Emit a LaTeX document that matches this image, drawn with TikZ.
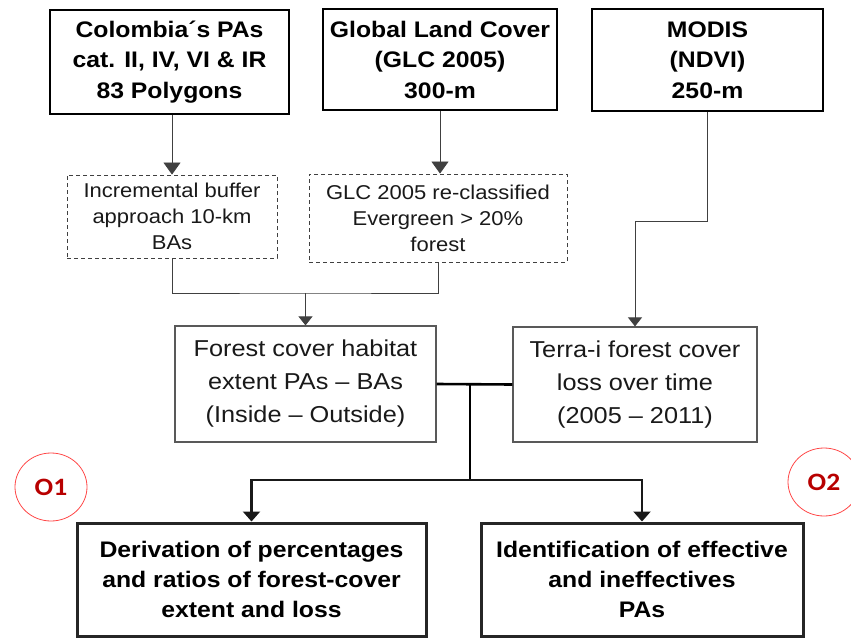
\documentclass[tikz,border=0pt]{standalone}
\usepackage{fontspec}
\setmainfont{Liberation Sans}[FakeStretch=1.1]
\newfontfamily\objfont{Carlito}[FakeStretch=1.1]
\usetikzlibrary{arrows.meta, positioning, shapes.geometric}
\definecolor{objred}{HTML}{B80000}
\definecolor{ringred}{HTML}{FF4848}
\tikzset{
  inbox/.style={draw=black, line width=2pt, align=center, inner sep=0pt,
    font=\bfseries\fontsize{22.5}{30.5}\selectfont},
  prepbox/.style={draw=black!75, line width=0.9pt, dash pattern=on 4pt off 3pt,
    align=center, inner sep=0pt, text=black!90, font=\fontsize{20}{26}\selectfont},
  midbox/.style={draw=black!65, line width=1.2pt, align=center, inner sep=0pt,
    text=black!90, font=\fontsize{23}{33}\selectfont},
  outbox/.style={draw=black!85, line width=3pt, align=center, inner sep=0pt,
    font=\bfseries\fontsize{22.5}{30}\selectfont},
  objring/.style={ellipse, draw=ringred, line width=0.8pt, minimum width=72pt,
    minimum height=68pt, text=objred, font=\objfont\bfseries\fontsize{25}{28}\selectfont},
  thinline/.style={draw=black!75, line width=0.8pt},
  toparr/.style={thinline, -{Triangle[width=17pt,length=12pt]}},
  thinarr/.style={thinline, -{Triangle[width=14pt,length=9pt]}},
  boldline/.style={draw=black, line width=2.6pt},
  boldarr/.style={draw=black!90, line width=2.2pt, -{Triangle[width=17pt,length=10pt]}},
}

\begin{document}
\begin{tikzpicture}[x=1pt, y=-1pt]
  \useasboundingbox (0,0) rectangle (851,637);
  % input data sets
  \node[inbox, minimum width=239pt, minimum height=104pt] (pas) at (169.5,62)
    {Colombia\char"00B4s PAs\\cat. II, IV, VI \& IR\\83 Polygons};
  \node[inbox, minimum width=234pt, minimum height=101pt] (glc) at (440,59.5)
    {Global Land Cover\\(GLC 2005)\\300-m};
  \node[inbox, minimum width=231pt, minimum height=102pt] (modis) at (707.5,60)
    {MODIS\\(NDVI)\\250-m};
  % pre-processing steps
  \node[prepbox, minimum width=210pt, minimum height=83pt] (buffer) at (172,216.5)
    {Incremental buffer\\approach 10-km\\BAs};
  \node[prepbox, minimum width=258pt, minimum height=88pt] (reclass) at (438,218)
    {GLC 2005 re-classified\\Evergreen > 20\%\\forest};
  % intermediate products
  \node[midbox, minimum width=261pt, minimum height=116pt] (habitat) at (305.5,384)
    {Forest cover habitat\\extent PAs -- BAs\\(Inside -- Outside)};
  \node[midbox, minimum width=244pt, minimum height=115pt] (terra) at (635,384.5)
    {Terra-i forest cover\\loss over time\\(2005 -- 2011)};
  % outputs
  \node[outbox, minimum width=349pt, minimum height=113pt] (deriv) at (251.5,579.5)
    {Derivation of percentages\\and ratios of forest-cover\\extent and loss};
  \node[outbox, minimum width=322pt, minimum height=113pt] (ident) at (642,579.5)
    {Identification of effective\\and ineffectives\\PAs};
  % objective markers
  \node[objring] (o1) at (51,487) {O1};
  \node[objring] (o2) at (824,482) {O2};
  % connectors
  \draw[toparr] (buffer.north |- pas.south) -- (buffer.north);
  \draw[toparr] (glc.south) -- (glc.south |- reclass.north);
  \coordinate (merge) at (305.5,293);
  \draw[thinline] (buffer.south) |- (merge) -| (reclass.south);
  \draw[thinarr] (merge) -- (habitat.north);
  \draw[thinarr] (modis.south) -- ++(0,109) -| (terra.north);
  % both results feed the two objectives
  \draw[boldline] (habitat.east) -- (terra.west);
  \coordinate (hub) at (470,384.5);
  \coordinate (split) at (470,480);
  \draw[boldline] (hub) -- (split);
  \draw[boldarr] (split) -| (deriv.north);
  \draw[boldarr] (split) -| (ident.north);
\end{tikzpicture}
\end{document}
